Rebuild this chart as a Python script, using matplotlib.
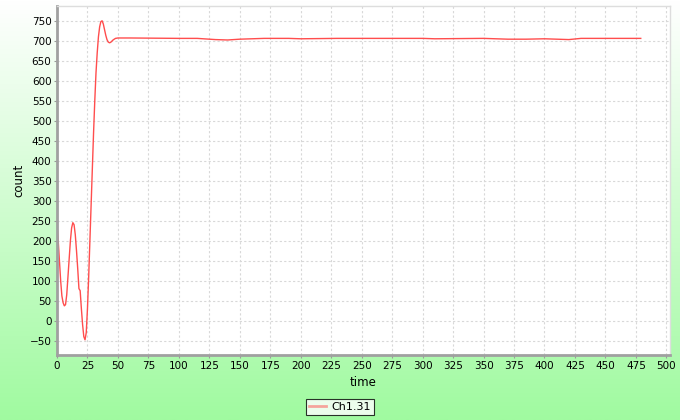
import matplotlib
matplotlib.use("Agg")
import matplotlib.pyplot as plt
import numpy as np

# readings
time = [0, 1, 2, 3, 4, 5, 6, 7, 8, 9, 10, 11, 12, 13, 14, 15, 16, 17, 18, 19,
        20, 21, 22, 23, 24, 25, 26, 27, 28, 29, 30, 31, 32, 33, 34, 35, 36, 37,
        38, 39, 40, 41, 42, 43, 44, 45, 46, 47, 48, 50, 60, 100, 115, 120, 130,
        140, 150, 170, 190, 200, 230, 300, 310, 350, 370, 385, 400, 410, 420,
        430, 479]
count = [240, 200, 150, 100, 62, 45, 37, 40, 65, 110, 155, 200, 232, 245, 240,
         215, 175, 130, 80, 75, 30, -10, -40, -48, -30, 30, 110, 200, 290, 380,
         470, 550, 620, 670, 710, 735, 748, 750, 742, 728, 714, 703, 697, 695,
         696, 699, 702, 704, 706, 707, 707, 706, 706, 705, 703, 702, 704, 706,
         706, 705, 706, 706, 705, 706, 704, 704, 705, 704, 703, 706, 706]
series_name = "Ch1.31"
x_ticks = np.arange(0, 501, 25)
y_ticks = np.arange(-50, 751, 50)

fig = plt.figure(figsize=(6.8, 4.2), dpi=100)

# white -> green gradient behind everything
bg = fig.add_axes([0, 0, 1, 1], zorder=-10)
grad = np.linspace(0, 1, 256).reshape(-1, 1)
top = np.array([1.0, 1.0, 1.0])
bot = np.array([160, 250, 160]) / 255
img = top * (1 - grad[..., None]) + bot * grad[..., None]
bg.imshow(img, aspect="auto", extent=[0, 1, 0, 1])
bg.axis("off")

ax = fig.add_axes([57 / 680, 1 - 355 / 420, 613 / 680, 349 / 420])
ax.set_facecolor("white")
ax.plot(time, count, color="#ff4d4d", linewidth=1.0, label=series_name)

ax.set_xlim(0, 503)
ax.set_ylim(-86, 787)
ax.set_xticks(x_ticks)
ax.set_yticks(y_ticks)
ax.tick_params(labelsize=7.5, length=2, color="#999999", pad=2)
ax.grid(True, color="#d8d8d8", linestyle=(0, (2, 2)), linewidth=0.8)
ax.set_axisbelow(True)

for side in ["left", "bottom"]:
    ax.spines[side].set_color("#a0a0a0")
    ax.spines[side].set_linewidth(2)
for side in ["top", "right"]:
    ax.spines[side].set_color("#dddddd")
    ax.spines[side].set_linewidth(1)

ax.set_xlabel("time", fontsize=8.5, labelpad=4)
ax.set_ylabel("count", fontsize=8.5, labelpad=3)

leg = fig.legend(loc="center", bbox_to_anchor=(0.5, 1 - 407 / 420), fontsize=8,
                 frameon=True, fancybox=False, handlelength=1.5,
                 borderpad=0.3, handletextpad=0.5)
leg.get_frame().set_edgecolor("black")
leg.get_frame().set_linewidth(0.8)
leg.get_lines()[0].set_alpha(0.5)
leg.get_lines()[0].set_linewidth(2)

fig.savefig("out.png", dpi=100)
